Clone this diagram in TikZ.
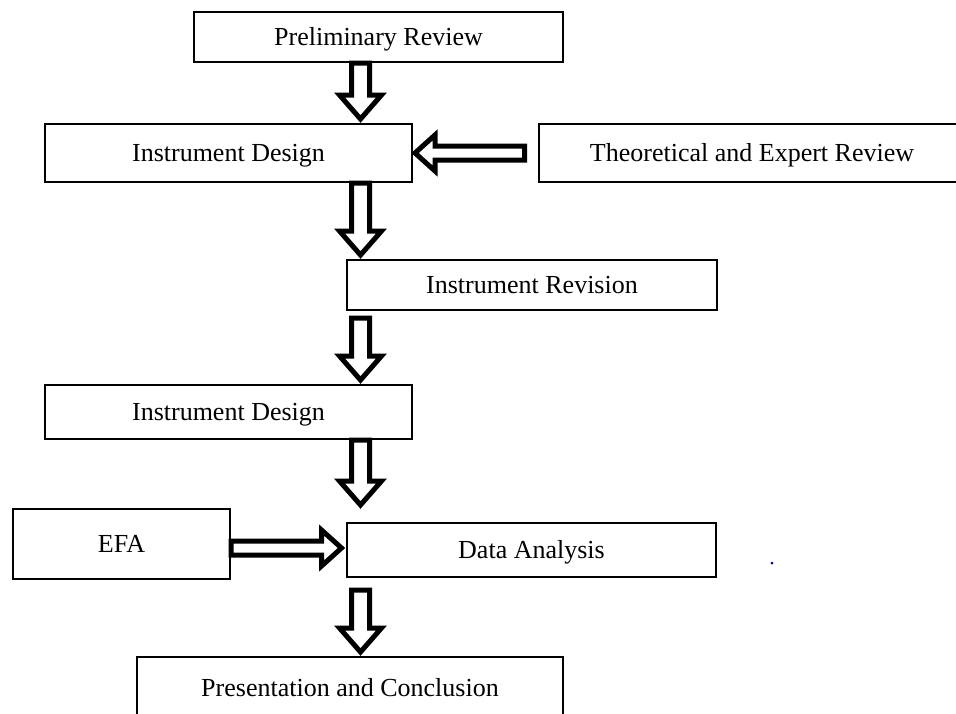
\documentclass[tikz,border=0pt]{standalone}
\usepackage{fontspec}
\setmainfont{Liberation Serif}
\usetikzlibrary{calc}
\newcommand{\vblock}[2]{\draw[blockarr] let \p1=(#1), \p2=(#2) in
  (\x1-9pt,\y1) -- (\x1+9pt,\y1) -- (\x1+9pt,\y2+24pt) -- (\x1+21pt,\y2+24pt)
  -- (\x1,\y2) -- (\x1-21pt,\y2+24pt) -- (\x1-9pt,\y2+24pt) -- cycle;}
\newcommand{\hblock}[3]{\draw[blockarr] let \p1=(#1), \p2=(#2) in
  (\x1,\y1-7pt) -- (\x2#3,\y1-7pt) -- (\x2#3,\y1-18pt) -- (\x2,\y1)
  -- (\x2#3,\y1+18pt) -- (\x2#3,\y1+7pt) -- (\x1,\y1+7pt) -- cycle;}
\begin{document}
\begin{tikzpicture}[x=1pt,y=-1pt,
  box/.style={draw=black,line width=2pt,fill=white,inner sep=0pt,
    text height=17pt,text depth=0pt,
    font=\fontsize{26}{30}\selectfont},
  blockarr/.style={draw=black,line width=5pt,fill=white,line join=miter}]
\useasboundingbox[fill=white] (0,0) rectangle (956,713);
\node[box,minimum width=369pt,minimum height=50pt] (pr) at (378.5,37) {Preliminary Review};
\node[box,minimum width=367pt,minimum height=58pt] (id1) at (228.5,153) {Instrument Design};
\node[box,minimum width=426pt,minimum height=58pt] (te) at (752,153) {Theoretical and Expert Review};
\node[box,minimum width=370pt,minimum height=50pt] (rev) at (532,285) {Instrument Revision};
\node[box,minimum width=367pt,minimum height=54pt] (id2) at (228.5,412) {Instrument Design};
\node[box,minimum width=217pt,minimum height=70pt] (efa) at (121.5,544) {EFA};
\node[box,minimum width=369pt,minimum height=54pt] (da) at (531.5,550) {Data Analysis};
\node[box,minimum width=426pt,minimum height=61pt] (pc) at (350,687.5) {Presentation and Conclusion};
\coordinate (ax) at (360.5,0);
\coordinate (s1) at (pr.south -| ax);
\coordinate (t1) at ($(id1.north -| ax)+(0,-4)$);
\coordinate (s2) at (id1.south -| ax);
\coordinate (t2) at ($(rev.north -| ax)+(0,-4)$);
\coordinate (s3) at ($(rev.south -| ax)+(0,7)$);
\coordinate (t3) at ($(id2.north -| ax)+(0,-4)$);
\coordinate (s4) at (id2.south -| ax);
\coordinate (t4) at ($(da.north -| ax)+(0,-17)$);
\coordinate (s5) at ($(da.south -| ax)+(0,12)$);
\coordinate (t5) at ($(pc.north -| ax)+(0,-4)$);
\coordinate (s6) at ($(te.west)+(-13.5,0)$);
\coordinate (t6) at ($(id1.east)+(2,0)$);
\coordinate (s7) at ($(efa.east)+(0,4)$);
\coordinate (t7) at ($(da.west)+(-4.5,-2)$);
\vblock{s1}{t1}
\vblock{s2}{t2}
\vblock{s3}{t3}
\vblock{s4}{t4}
\vblock{s5}{t5}
\hblock{s6}{t6}{+20pt}
\hblock{s7}{t7}{-20pt}
\fill[blue!50!black] (772,563) circle (1.5);
\end{tikzpicture}
\end{document}
